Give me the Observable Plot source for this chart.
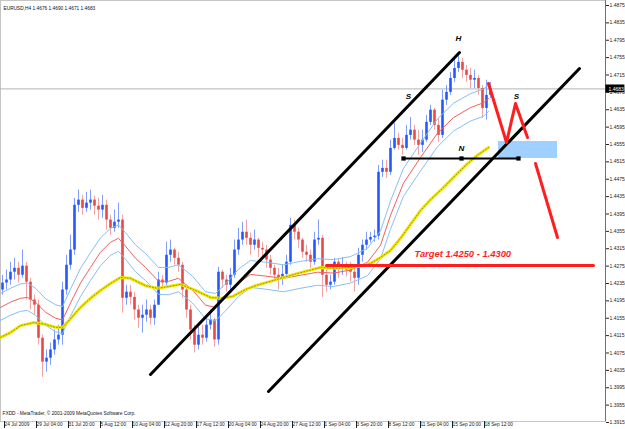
<!DOCTYPE html>
<html><head><meta charset="utf-8">
<script src="https://cdn.jsdelivr.net/npm/d3@7"></script>
<script src="https://cdn.jsdelivr.net/npm/@observablehq/plot@0.6"></script>
<style>body{margin:0;background:#fff}</style>
</head><body><div id="chart"></div>
<script>
// EURUSD H4 candles (2 H4 bars merged per candle)
const firstOpen = 1.4220;
const close = [
1.4236,1.4243,1.4261,1.4270,1.4254,1.4275,1.4238,1.4197,1.4185,1.4109,
1.4054,1.4063,1.4082,1.4105,1.4116,1.4220,1.4277,1.4312,1.4415,1.4427,
1.4408,1.4420,1.4427,1.4413,1.4404,1.4415,1.4381,1.4362,1.4376,1.4381,
1.4201,1.4215,1.4203,1.4174,1.4155,1.4162,1.4174,1.4155,1.4185,1.4243,
1.4236,1.4300,1.4312,1.4293,1.4277,1.4220,1.4174,1.4128,1.4093,1.4116,
1.4109,1.4139,1.4151,1.4105,1.4261,1.4243,1.4231,1.4254,1.4312,1.4335,
1.4353,1.4339,1.4323,1.4335,1.4316,1.4312,1.4289,1.4270,1.4254,1.4247,
1.4256,1.4284,1.4369,1.4353,1.4335,1.4307,1.4300,1.4284,1.4335,1.4339,
1.4254,1.4231,1.4238,1.4284,1.4270,1.4277,1.4266,1.4261,1.4247,1.4300,
1.4323,1.4335,1.4341,1.4344,1.4491,1.4500,1.4491,1.4546,1.4569,1.4553,
1.4546,1.4576,1.4588,1.4565,1.4553,1.4565,1.4606,1.4634,1.4599,1.4576,
1.4657,1.4675,1.4707,1.4730,1.4744,1.4726,1.4714,1.4703,1.4707,1.4684,
1.4638,1.4668,1.4683];
const high = [
1.4254,1.4266,1.4284,1.4293,1.4284,1.4312,1.4284,1.4247,1.4208,1.4197,
1.4116,1.4082,1.4098,1.4128,1.4139,1.4238,1.4300,1.4346,1.4431,1.4450,
1.4438,1.4445,1.4450,1.4436,1.4431,1.4438,1.4427,1.4392,1.4404,1.4420,
1.4392,1.4231,1.4231,1.4215,1.4185,1.4185,1.4197,1.4185,1.4197,1.4261,
1.4254,1.4330,1.4335,1.4316,1.4307,1.4284,1.4231,1.4185,1.4139,1.4139,
1.4139,1.4162,1.4174,1.4155,1.4272,1.4266,1.4254,1.4270,1.4335,1.4362,
1.4376,1.4381,1.4351,1.4358,1.4339,1.4330,1.4323,1.4300,1.4277,1.4270,
1.4277,1.4300,1.4385,1.4381,1.4362,1.4339,1.4323,1.4312,1.4353,1.4381,
1.4346,1.4266,1.4254,1.4293,1.4293,1.4295,1.4284,1.4284,1.4277,1.4316,
1.4335,1.4353,1.4353,1.4358,1.4507,1.4519,1.4519,1.4565,1.4604,1.4581,
1.4569,1.4599,1.4617,1.4599,1.4588,1.4588,1.4622,1.4645,1.4638,1.4615,
1.4680,1.4691,1.4721,1.4753,1.4760,1.4753,1.4737,1.4730,1.4726,1.4714,
1.4691,1.4703,1.4698];
const low = [
1.4208,1.4220,1.4231,1.4243,1.4236,1.4247,1.4197,1.4174,1.4162,1.4093,
1.4019,1.4031,1.4047,1.4070,1.4093,1.4093,1.4208,1.4266,1.4300,1.4399,
1.4392,1.4399,1.4404,1.4392,1.4381,1.4385,1.4358,1.4346,1.4353,1.4362,
1.4167,1.4185,1.4185,1.4151,1.4132,1.4121,1.4146,1.4139,1.4139,1.4185,
1.4220,1.4224,1.4284,1.4277,1.4261,1.4201,1.4155,1.4105,1.4075,1.4082,
1.4093,1.4100,1.4128,1.4088,1.4093,1.4224,1.4215,1.4220,1.4247,1.4300,
1.4323,1.4323,1.4300,1.4312,1.4295,1.4293,1.4270,1.4254,1.4238,1.4220,
1.4231,1.4247,1.4277,1.4335,1.4316,1.4293,1.4284,1.4270,1.4277,1.4323,
1.4203,1.4215,1.4220,1.4231,1.4247,1.4254,1.4250,1.4238,1.4215,1.4231,
1.4284,1.4312,1.4328,1.4330,1.4335,1.4479,1.4477,1.4484,1.4542,1.4542,
1.4530,1.4542,1.4565,1.4553,1.4530,1.4537,1.4560,1.4599,1.4588,1.4560,
1.4569,1.4645,1.4668,1.4698,1.4721,1.4707,1.4698,1.4684,1.4684,1.4668,
1.4615,1.4611,1.4661];

// Moving averages sampled along the bar index
const maIdx = [-0.5,2,4.5,6.25,8.25,10.75,13.25,15,17,19.5,22,24.5,27,29,30.75,33.25,35.75,39,41.5,44,47.5,50.75,53.25,55.75,59,62,65.75,70.25,74.5,78.75,82.75,87,91.25,94.5,97,100.25,104.5,108.75,112.75,117,120.25,121.5];
const maRed = [1.4180,1.4192,1.4201,1.4203,1.4192,1.4169,1.4155,1.4151,1.4190,1.4236,1.4272,1.4307,1.4330,1.4339,1.4321,1.4293,1.4272,1.4240,1.4240,1.4247,1.4220,1.4185,1.4180,1.4203,1.4236,1.4256,1.4252,1.4247,1.4254,1.4261,1.4259,1.4266,1.4284,1.4323,1.4392,1.4466,1.4525,1.4581,1.4617,1.4640,1.4651,1.4661];
const bandUpper = [1.4212,1.4224,1.4234,1.4236,1.4224,1.4200,1.4186,1.4182,1.4222,1.4270,1.4306,1.4340,1.4362,1.4370,1.4352,1.4324,1.4304,1.4272,1.4272,1.4278,1.4252,1.4216,1.4212,1.4234,1.4268,1.4288,1.4284,1.4278,1.4286,1.4292,1.4290,1.4297,1.4316,1.4356,1.4425,1.4500,1.4558,1.4614,1.4650,1.4672,1.4683,1.4692];
const bandLower = [1.4150,1.4162,1.4171,1.4173,1.4162,1.4139,1.4124,1.4120,1.4160,1.4205,1.4242,1.4276,1.4300,1.4309,1.4291,1.4262,1.4242,1.4210,1.4209,1.4216,1.4190,1.4154,1.4149,1.4172,1.4205,1.4226,1.4222,1.4216,1.4224,1.4231,1.4228,1.4236,1.4253,1.4292,1.4360,1.4436,1.4494,1.4550,1.4586,1.4609,1.4620,1.4631];
const slowIdx = [-0.5,2,4.5,7.75,10.75,13.25,15,17,19.5,22,24.5,27,29.5,32,35.75,38.75,41.5,44.5,48.25,52,54.5,57.5,60.75,63.25,67,70.25,74.5,79.5,83.25,87,90,92,94.5,97,99.5,102,104.5,107,110.25,113.25,116.25,119,121.5];
const maSlow = [1.4111,1.4122,1.4138,1.4145,1.4141,1.4134,1.4134,1.4154,1.4180,1.4201,1.4219,1.4235,1.4249,1.4247,1.4230,1.4224,1.4228,1.4233,1.4219,1.4203,1.4201,1.4205,1.4221,1.4230,1.4240,1.4249,1.4260,1.4272,1.4270,1.4272,1.4276,1.4281,1.4295,1.4311,1.4339,1.4371,1.4403,1.4428,1.4456,1.4484,1.4511,1.4532,1.4548];

// Axis ticks
const xTickIdx = [0,8,16,24,32,40,48,56,64,72,80,88,96,104,112,120];
const xTickLabels = ["24 Jul 2009","29 Jul 04:00","31 Jul 20:00","5 Aug 12:00","10 Aug 04:00","12 Aug 20:00","17 Aug 12:00","20 Aug 04:00","24 Aug 20:00","27 Aug 12:00","1 Sep 04:00","3 Sep 20:00","8 Sep 12:00","11 Sep 04:00","15 Sep 20:00","18 Sep 12:00"];
const yTicks = [1.3915,1.3955,1.3995,1.4035,1.4075,1.4115,1.4155,1.4195,1.4235,1.4275,1.4315,1.4355,1.4395,1.4435,1.4475,1.4515,1.4555,1.4595,1.4635,1.4675,1.4715,1.4755,1.4795,1.4835,1.4875];
const currentPrice = 1.4683;
const headerText = "EURUSD,H4 1.4676 1.4690 1.4671 1.4683";
const footerText = "FXDD - MetaTrader, \u00a9 2001-2009 MetaQuotes Software Corp.";

// Drawn analysis objects (bar index, price)
const upperChannel = [{i:37, p:1.40255},{i:114.25, p:1.47668}];
const lowerChannel = [{i:66.5, p:1.39864},{i:144.25, p:1.47300}];
const neckline = [{i:100.25, p:1.45228},{i:114.75, p:1.45228},{i:129, p:1.45228}];
const zigzag = [{i:121.5, p:1.46954},{i:126, p:1.45596},{i:128.25, p:1.46494},{i:131.25, p:1.45711}];
const dropLeg = [{i:133.25, p:1.45113},{i:138.75, p:1.43409}];
const zone = [{i1:124, i2:138.75, p1:1.45228, p2:1.45619}];
const targetLine = [{i:81, p:1.42764},{i:147.75, p:1.42764}];
const targetLabel = [{i:103, p:1.4302, t:"Target 1.4250 - 1.4300"}];
const patternLabels = [
  {i:114, p:1.4799, t:"H"},
  {i:101.5, p:1.46655, t:"S"},
  {i:128.5, p:1.46655, t:"S"},
  {i:114.75, p:1.45458, t:"N"}
];

const bars = close.map((c,i)=>{
  const o = i===0 ? firstOpen : close[i-1];
  return {i, open:o, close:c, high:high[i], low:low[i], up: c>=o};
});
const ma = maIdx.map((x,k)=>({i:x, red:maRed[k], up:bandUpper[k], lo:bandLower[k]}));
const slow = slowIdx.map((x,k)=>({i:x, p:maSlow[k]}));
const labelMap = new Map(xTickIdx.map((d,k)=>[d, xTickLabels[k]]));

const chart = Plot.plot({
  width: 625, height: 429,
  marginLeft: 0, marginRight: 20, marginTop: 0, marginBottom: 8,
  style: {fontFamily: "'Liberation Sans', Arial, sans-serif", background: "#fff", overflow: "visible"},
  x: {domain: [-0.5, 150.75]},
  y: {domain: [1.39173, 1.48865]},
  marks: [
    Plot.frame({stroke: "#8a8a8a", strokeDasharray: "1,1"}),
    Plot.ruleY([currentPrice], {stroke: "#b4b4b4", strokeWidth: 1}),
    Plot.rect(zone, {x1: "i1", x2: "i2", y1: "p1", y2: "p2", fill: "#9fd0ff"}),
    Plot.ruleX(bars, {x: "i", y1: "low", y2: "high", stroke: d => d.up ? "#7f9dff" : "#f2a4a4", strokeWidth: 1}),
    Plot.ruleX(bars, {x: "i", y1: "open", y2: "close", stroke: d => d.up ? "#2457ff" : "#e84848", strokeWidth: 2.6}),
    Plot.line(ma, {x: "i", y: "up", stroke: "#86c0f2", strokeWidth: 1}),
    Plot.line(ma, {x: "i", y: "lo", stroke: "#86c0f2", strokeWidth: 1}),
    Plot.line(ma, {x: "i", y: "red", stroke: "#f06060", strokeWidth: 1}),
    Plot.line(slow, {x: "i", y: "p", stroke: "#f2e600", strokeWidth: 3}),
    Plot.line(slow, {x: "i", y: "p", stroke: "#9a9400", strokeWidth: 1, strokeDasharray: "1,2"}),
    Plot.line(upperChannel, {x: "i", y: "p", stroke: "#000", strokeWidth: 3}),
    Plot.line(lowerChannel, {x: "i", y: "p", stroke: "#000", strokeWidth: 3}),
    Plot.line(neckline, {x: "i", y: "p", stroke: "#000", strokeWidth: 2}),
    Plot.dot(neckline, {x: "i", y: "p", symbol: "square", r: 2.4, fill: "#000"}),
    Plot.line(zigzag, {x: "i", y: "p", stroke: "#ff1e1e", strokeWidth: 3}),
    Plot.line(dropLeg, {x: "i", y: "p", stroke: "#ff1e1e", strokeWidth: 3}),
    Plot.line(targetLine, {x: "i", y: "p", stroke: "#ff1e1e", strokeWidth: 3}),
    Plot.text(targetLabel, {x: "i", y: "p", text: "t", fill: "#ff1e1e", fontSize: 9.4, fontWeight: "bold", fontStyle: "italic", textAnchor: "start"}),
    Plot.text(patternLabels, {x: "i", y: "p", text: "t", fill: "#000", fontSize: 8, fontWeight: "bold", fontStyle: "italic"}),
    Plot.ruleX([150.75], {stroke: "#707070"}),
    Plot.axisY(yTicks, {anchor: "right", tickSize: 3, tickPadding: 1, tickFormat: d => d.toFixed(4), fontSize: 5, color: "#222"}),
    Plot.axisX(xTickIdx, {anchor: "bottom", tickSize: 7, tickPadding: -6, tickFormat: d => labelMap.get(d), textAnchor: "start", dx: 2, fontSize: 4.8, color: "#222"}),
    Plot.rect([{p: currentPrice}], {x1: () => 150.85, x2: () => 155.6, y1: d => d.p - 0.0009, y2: d => d.p + 0.0009, fill: "#000"}),
    Plot.text([{p: currentPrice}], {x: () => 151.5, y: "p", text: d => d.p.toFixed(4), fill: "#fff", fontSize: 5, textAnchor: "start"}),
    Plot.text([headerText], {frameAnchor: "top-left", dx: 3, dy: 6, fontSize: 4.8, textAnchor: "start", fill: "#111"}),
    Plot.text([footerText], {frameAnchor: "bottom-left", dx: 2, dy: -7, fontSize: 4.8, textAnchor: "start", fill: "#111"})
  ]
});
document.getElementById("chart").appendChild(chart);
</script>
</body></html>
